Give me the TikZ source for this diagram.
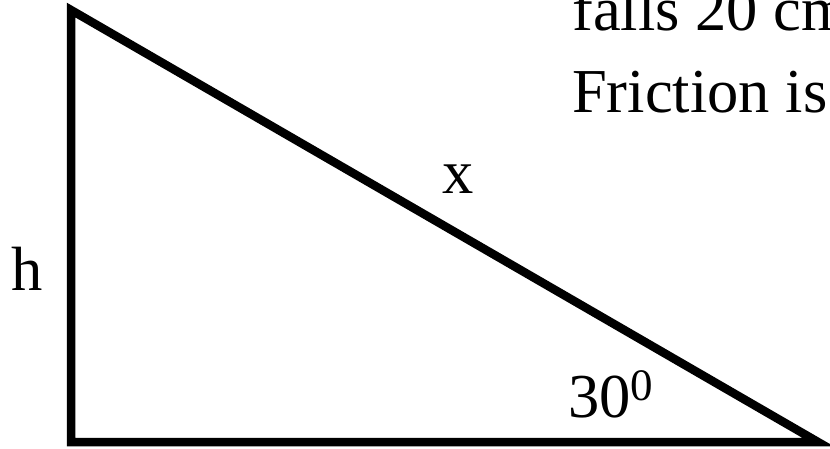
\documentclass[tikz,border=0pt]{standalone}
\usepackage{fontspec}
\setmainfont{Liberation Serif}
\begin{document}
\begin{tikzpicture}[x=1pt,y=-1pt,
  side/.style={line width=8.5pt, line join=miter},
  lbl/.style={inner sep=0pt, anchor=base west, font=\fontsize{62.5}{62.5}\selectfont}]
\useasboundingbox (0,0) rectangle (830,448);
\coordinate (A) at (71,10);
\coordinate (B) at (71,442);
\coordinate (C) at (818,442);
\draw[side] (A) -- (B) -- (C) -- cycle;
\node[lbl] (falls) at (572,30) {falls 20 cm};
\node[lbl] (fric) at (572,112) {Friction is};
\node[lbl] (xl) at (442,193) {x};
\node[lbl] (hl) at (11,290) {h};
\node[lbl] (ang) at (568,417) {30\raisebox{17pt}{\fontsize{45}{45}\selectfont 0}};
\end{tikzpicture}
\end{document}
